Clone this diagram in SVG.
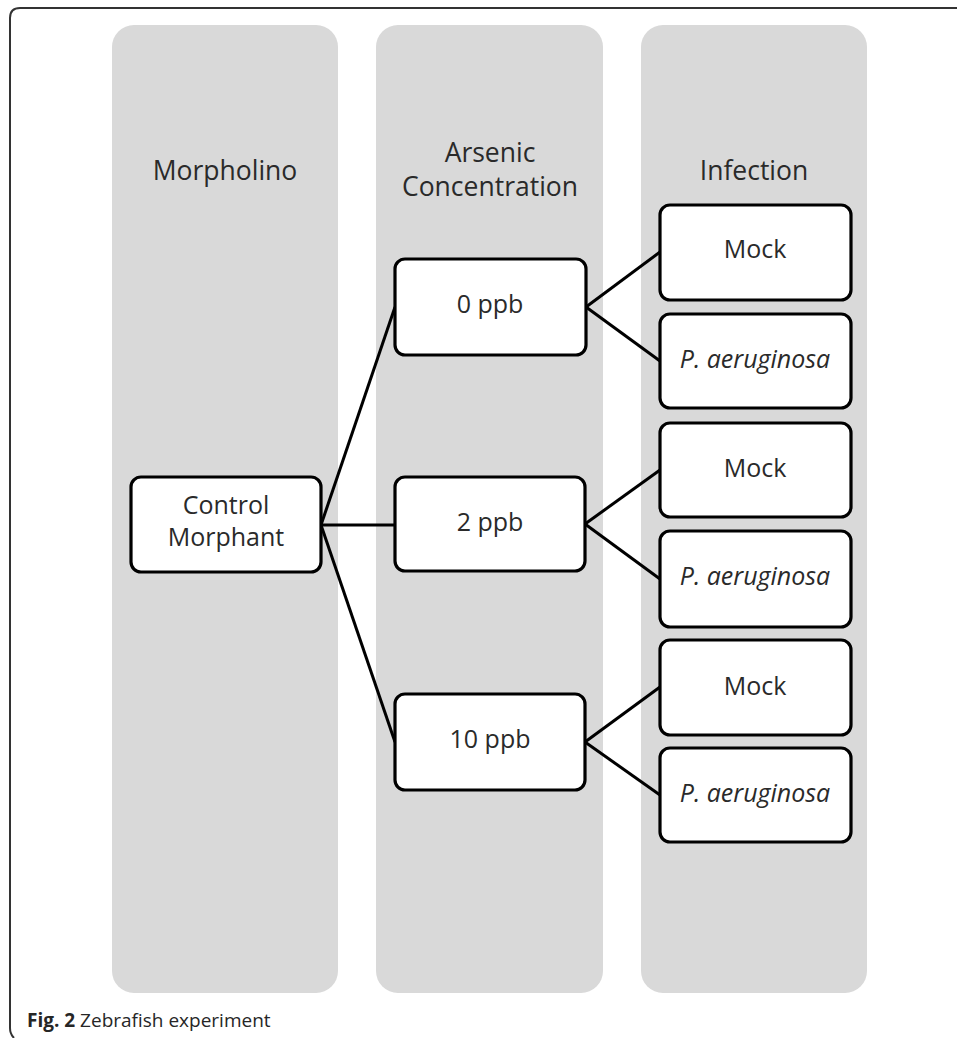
<svg xmlns="http://www.w3.org/2000/svg" width="957" height="1038" viewBox="0 0 957 1038">
<style>
.col{fill:#d9d9d9}
.box{fill:#fff;stroke:#000;stroke-width:3.2}
.t{font-family:"Open Sans","Liberation Sans",sans-serif;font-size:25px;fill:#2a2a2a;text-anchor:middle}
.h{font-size:26.5px}
.it{font-style:italic}
.c line{stroke:#000;stroke-width:3}
</style>
<rect width="957" height="1038" fill="#fff"/>
<path d="M957,8 H20 Q10,8 10,18 V1028 Q10,1034 14,1038" fill="none" stroke="#333" stroke-width="2"/>
<g id="columns">
<rect class="col" x="112" y="25" width="226" height="968" rx="22"/>
<rect class="col" x="376" y="25" width="227" height="968" rx="22"/>
<rect class="col" x="641" y="25" width="226" height="968" rx="22"/>
<text class="t h" x="225" y="180">Morpholino</text>
<text class="t h" x="490" y="162">Arsenic</text>
<text class="t h" x="490" y="196">Concentration</text>
<text class="t h" x="754" y="180">Infection</text>
</g>
<g class="c" id="connectors">
<line x1="321" y1="525" x2="395" y2="307"/>
<line x1="321" y1="525" x2="395" y2="525"/>
<line x1="321" y1="525" x2="395" y2="742"/>
<line x1="586" y1="307" x2="660" y2="252"/>
<line x1="586" y1="307" x2="660" y2="361"/>
<line x1="585" y1="524" x2="660" y2="470"/>
<line x1="585" y1="524" x2="660" y2="579"/>
<line x1="585" y1="742" x2="660" y2="687"/>
<line x1="585" y1="742" x2="660" y2="795"/>
</g>
<g id="control">
<rect class="box" x="131" y="477" width="190" height="95" rx="10"/>
<text class="t" x="226" y="514">Control</text>
<text class="t" x="226" y="546">Morphant</text>
</g>
<g id="ppb0">
<rect class="box" x="395" y="259" width="191" height="96" rx="10"/>
<text class="t" x="490" y="313">0 ppb</text>
</g>
<g id="ppb2">
<rect class="box" x="395" y="477" width="190" height="94" rx="10"/>
<text class="t" x="490" y="531">2 ppb</text>
</g>
<g id="ppb10">
<rect class="box" x="395" y="694" width="190" height="96" rx="10"/>
<text class="t" x="490" y="748">10 ppb</text>
</g>
<g id="mock1">
<rect class="box" x="660" y="205" width="191" height="95" rx="10"/>
<text class="t" x="755" y="258">Mock</text>
</g>
<g id="pa1">
<rect class="box" x="660" y="314" width="191" height="94" rx="10"/>
<text class="t it" x="755" y="368">P. aeruginosa</text>
</g>
<g id="mock2">
<rect class="box" x="660" y="423" width="191" height="94" rx="10"/>
<text class="t" x="755" y="477">Mock</text>
</g>
<g id="pa2">
<rect class="box" x="660" y="531" width="191" height="96" rx="10"/>
<text class="t it" x="755" y="585">P. aeruginosa</text>
</g>
<g id="mock3">
<rect class="box" x="660" y="640" width="191" height="95" rx="10"/>
<text class="t" x="755" y="695">Mock</text>
</g>
<g id="pa3">
<rect class="box" x="660" y="748" width="191" height="94" rx="10"/>
<text class="t it" x="755" y="802">P. aeruginosa</text>
</g>
<g id="caption">
<text x="27" y="1027" style="font-family:'Open Sans','Liberation Sans',sans-serif;font-size:19px;fill:#262626"><tspan font-weight="bold">Fig. 2</tspan> Zebrafish experiment</text>
</g>
</svg>
